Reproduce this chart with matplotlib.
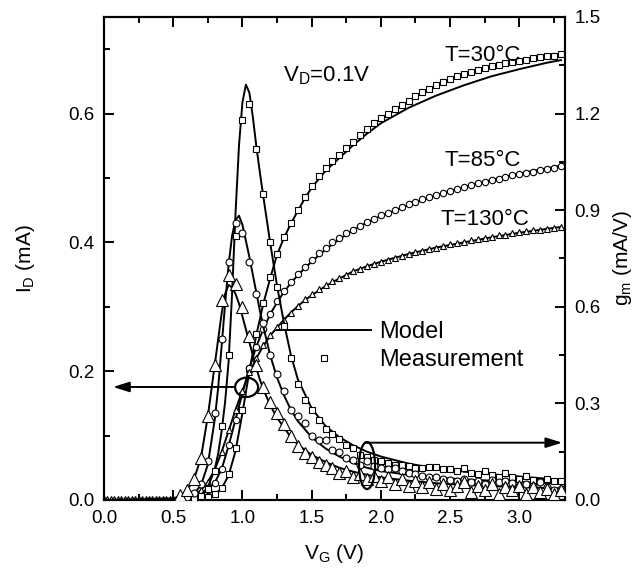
import numpy as np
import matplotlib
matplotlib.use('Agg')
import matplotlib.pyplot as plt
from matplotlib.patches import Ellipse
from matplotlib.lines import Line2D

plt.rc('font', family='Liberation Sans', size=14)
plt.rc('mathtext', fontset='custom', rm='Liberation Sans', it='Liberation Sans:italic')

# measurement grid (V)
vg = np.round(np.arange(0.55, 3.301, 0.05), 2)
vg_low = np.round(np.arange(0.0, 0.54, 0.025), 3)

# drain current, measured (mA)
id30_meas = [0.000, 0.000, 0.001, 0.002, 0.005, 0.009, 0.018, 0.040, 0.080, 0.140,
             0.203, 0.258, 0.306, 0.346, 0.382, 0.408, 0.430, 0.450, 0.470, 0.488,
             0.503, 0.515, 0.526, 0.536, 0.546, 0.556, 0.566, 0.576, 0.585, 0.593,
             0.600, 0.607, 0.614, 0.620, 0.627, 0.633, 0.638, 0.644, 0.649, 0.654,
             0.658, 0.662, 0.665, 0.668, 0.671, 0.674, 0.676, 0.678, 0.680, 0.682,
             0.684, 0.686, 0.688, 0.689, 0.690, 0.692]
id85_meas = [0.000, 0.002, 0.004, 0.008, 0.016, 0.027, 0.048, 0.085, 0.125, 0.165,
             0.205, 0.238, 0.265, 0.289, 0.309, 0.325, 0.339, 0.351, 0.362, 0.373,
             0.383, 0.392, 0.400, 0.407, 0.414, 0.420, 0.426, 0.432, 0.437, 0.442,
             0.446, 0.451, 0.455, 0.459, 0.463, 0.467, 0.470, 0.474, 0.477, 0.480,
             0.483, 0.486, 0.489, 0.492, 0.494, 0.497, 0.499, 0.502, 0.504, 0.506,
             0.508, 0.510, 0.512, 0.514, 0.516, 0.518]
id130_meas = [0.002, 0.003, 0.007, 0.015, 0.028, 0.047, 0.075, 0.108, 0.140, 0.170,
              0.198, 0.221, 0.240, 0.256, 0.269, 0.280, 0.291, 0.302, 0.312, 0.320,
              0.328, 0.334, 0.340, 0.345, 0.350, 0.355, 0.359, 0.363, 0.367, 0.370,
              0.373, 0.376, 0.379, 0.382, 0.385, 0.387, 0.390, 0.392, 0.395, 0.397,
              0.399, 0.401, 0.403, 0.405, 0.407, 0.409, 0.411, 0.412, 0.414, 0.416,
              0.417, 0.419, 0.420, 0.421, 0.422, 0.424]
id130_low = [0.0] * len(vg_low)

# transconductance, measured (mA/V)
gm30_meas = [0.000, 0.002, 0.005, 0.012, 0.035, 0.090, 0.230, 0.450, 0.820, 1.180,
             1.230, 1.090, 0.950, 0.800, 0.660, 0.540, 0.440, 0.360, 0.310, 0.280,
             0.250, 0.220, 0.205, 0.190, 0.172, 0.160, 0.140, 0.135, 0.125, 0.120,
             0.115, 0.110, 0.108, 0.105, 0.100, 0.098, 0.103, 0.102, 0.095, 0.097,
             0.090, 0.099, 0.085, 0.080, 0.090, 0.078, 0.072, 0.083, 0.070, 0.066,
             0.075, 0.062, 0.060, 0.065, 0.058, 0.060]
gm85_meas = [0.000, 0.008, 0.022, 0.050, 0.120, 0.270, 0.500, 0.740, 0.860, 0.830,
             0.740, 0.640, 0.550, 0.450, 0.390, 0.340, 0.280, 0.260, 0.240, 0.200,
             0.185, 0.186, 0.155, 0.150, 0.130, 0.125, 0.110, 0.120, 0.105, 0.100,
             0.095, 0.100, 0.090, 0.085, 0.080, 0.075, 0.070, 0.072, 0.065, 0.062,
             0.059, 0.065, 0.055, 0.060, 0.050, 0.062, 0.055, 0.060, 0.052, 0.045,
             0.050, 0.044, 0.055, 0.040, 0.030, 0.035]
gm130_meas = [0.015, 0.030, 0.065, 0.130, 0.260, 0.420, 0.620, 0.700, 0.670, 0.600,
              0.510, 0.420, 0.350, 0.305, 0.270, 0.235, 0.200, 0.168, 0.145, 0.132,
              0.118, 0.110, 0.100, 0.085, 0.090, 0.070, 0.080, 0.065, 0.075, 0.060,
              0.070, 0.050, 0.065, 0.045, 0.060, 0.040, 0.055, 0.035, 0.050, 0.030,
              0.045, 0.055, 0.025, 0.045, 0.030, 0.050, 0.020, 0.040, 0.030, 0.045,
              0.020, 0.040, 0.025, 0.035, 0.020, 0.030]

# model curves
vg_fit_id = [0.0, 0.5, 0.55, 0.6, 0.65, 0.7, 0.75, 0.8, 0.85, 0.9, 0.95, 1.0, 1.05, 1.1,
             1.15, 1.2, 1.25, 1.3, 1.35, 1.4, 1.45, 1.5, 1.6, 1.7, 1.8, 1.9, 2.0, 2.2,
             2.4, 2.6, 2.8, 3.0, 3.2, 3.3]
id30_fit = [0.0, 0.0, 0.0, 0.0, 0.001, 0.002, 0.005, 0.009, 0.018, 0.038, 0.076, 0.135,
            0.200, 0.256, 0.304, 0.344, 0.381, 0.407, 0.429, 0.449, 0.468, 0.485, 0.511,
            0.531, 0.551, 0.569, 0.585, 0.609, 0.628, 0.644, 0.658, 0.669, 0.679, 0.683]
id85_fit = [0.0, 0.0, 0.0, 0.001, 0.004, 0.008, 0.016, 0.027, 0.048, 0.084, 0.125, 0.166,
            0.205, 0.238, 0.265, 0.288, 0.307, 0.323, 0.337, 0.349, 0.360, 0.370, 0.389,
            0.405, 0.419, 0.431, 0.441, 0.458, 0.473, 0.486, 0.497, 0.507, 0.515, 0.519]
id130_fit = [0.0, 0.0, 0.002, 0.003, 0.007, 0.015, 0.028, 0.047, 0.075, 0.107, 0.140, 0.170,
             0.197, 0.220, 0.239, 0.255, 0.268, 0.280, 0.291, 0.301, 0.310, 0.318, 0.332,
             0.344, 0.355, 0.363, 0.370, 0.382, 0.392, 0.400, 0.408, 0.415, 0.421, 0.424]

vg_fit_gm = [0.0, 0.5, 0.55, 0.6, 0.65, 0.7, 0.75, 0.8, 0.825, 0.85, 0.875, 0.9, 0.925,
             0.95, 0.975, 1.0, 1.025, 1.05, 1.075, 1.1, 1.125, 1.15, 1.2, 1.25, 1.3, 1.35,
             1.4, 1.5, 1.6, 1.7, 1.8, 1.9, 2.0, 2.2, 2.4, 2.6, 2.8, 3.0, 3.2, 3.3]
gm30_fit = [0.0, 0.0, 0.001, 0.002, 0.006, 0.015, 0.040, 0.095, 0.145, 0.215, 0.305, 0.430,
            0.640, 0.890, 1.100, 1.235, 1.290, 1.265, 1.190, 1.100, 1.020, 0.945, 0.800,
            0.665, 0.550, 0.450, 0.375, 0.285, 0.230, 0.195, 0.170, 0.150, 0.135, 0.113,
            0.098, 0.088, 0.080, 0.073, 0.066, 0.063]
gm85_fit = [0.0, 0.0, 0.003, 0.008, 0.020, 0.045, 0.110, 0.250, 0.350, 0.480, 0.610, 0.730,
            0.820, 0.870, 0.883, 0.855, 0.805, 0.755, 0.700, 0.645, 0.590, 0.540, 0.450,
            0.380, 0.325, 0.280, 0.245, 0.195, 0.160, 0.135, 0.115, 0.100, 0.090, 0.078,
            0.070, 0.064, 0.060, 0.056, 0.053, 0.052]
gm130_fit = [0.0, 0.005, 0.012, 0.030, 0.065, 0.130, 0.260, 0.420, 0.500, 0.580, 0.640, 0.668,
             0.660, 0.640, 0.610, 0.570, 0.530, 0.490, 0.450, 0.410, 0.375, 0.345, 0.295,
             0.255, 0.225, 0.195, 0.172, 0.140, 0.118, 0.100, 0.088, 0.078, 0.070, 0.060,
             0.052, 0.047, 0.043, 0.040, 0.037, 0.036]

temps = ['T=30°C', 'T=85°C', 'T=130°C']

fig = plt.figure(figsize=(6.39, 5.75), dpi=100)
ax = fig.add_axes([104/639, 1-500/575, 461/639, 483/575])
ax2 = ax.twinx()

lw = 1.4
mk = dict(linestyle='none', markerfacecolor='white', markeredgecolor='k', markeredgewidth=0.8)

# I_D on left axis
for y in (id30_fit, id85_fit, id130_fit):
    ax.plot(vg_fit_id, y, color='k', lw=lw, zorder=2)
ax.plot(vg, id30_meas, marker='s', markersize=4.3, zorder=3, **mk)
ax.plot(vg, id85_meas, marker='o', markersize=4.6, zorder=3, **mk)
ax.plot(vg_low, id130_low, marker='^', markersize=6, zorder=3, **mk)
ax.plot(vg, id130_meas, marker='^', markersize=5, zorder=3, **mk)

# g_m on right axis
for y in (gm30_fit, gm85_fit, gm130_fit):
    ax2.plot(vg_fit_gm, y, color='k', lw=lw, zorder=2)
ax2.plot(vg, gm30_meas, marker='s', markersize=4.8, zorder=3, **mk)
ax2.plot(vg, gm85_meas, marker='o', markersize=5, zorder=3, **mk)
ax2.plot(vg, gm130_meas, marker='^', markersize=9, zorder=3, **mk)

ax.set_xlim(0, 3.33)
ax.set_ylim(0, 0.75)
ax2.set_ylim(0, 1.5)
ax.set_xticks(np.arange(0, 3.01, 0.5))
ax.set_xticks(np.arange(0, 3.33, 0.25), minor=True)
ax.set_yticks([0.0, 0.2, 0.4, 0.6])
ax.set_yticks(np.arange(0, 0.751, 0.1), minor=True)
ax2.set_yticks(np.arange(0, 1.51, 0.3))
ax2.set_yticks(np.arange(0, 1.51, 0.15), minor=True)
ax.xaxis.set_major_formatter(matplotlib.ticker.FormatStrFormatter('%.1f'))
ax.yaxis.set_major_formatter(matplotlib.ticker.FormatStrFormatter('%.1f'))
ax2.yaxis.set_major_formatter(matplotlib.ticker.FormatStrFormatter('%.1f'))

ax.tick_params(which='both', direction='in', top=True, right=False, width=1.4, labelsize=13.5)
ax.tick_params(which='major', length=7, pad=7)
ax.tick_params(which='minor', length=4)
ax2.tick_params(which='both', direction='in', width=1.4, labelsize=13.5)
ax2.tick_params(which='major', length=7, pad=7)
ax2.tick_params(which='minor', length=4)
for a in (ax, ax2):
    for s in a.spines.values():
        s.set_linewidth(1.5)

ax.set_xlabel('V$_\\mathrm{G}$ (V)', fontsize=15, labelpad=11)
ax.set_ylabel('I$_\\mathrm{D}$ (mA)', fontsize=15, labelpad=22)
ax2.set_ylabel('g$_\\mathrm{m}$ (mA/V)', fontsize=15, labelpad=7)

# annotations
ax.text(1.29, 0.65, 'V$_\\mathrm{D}$=0.1V', fontsize=16)
ax.text(2.46, 0.682, temps[0], fontsize=16)
ax.text(2.46, 0.519, temps[1], fontsize=16)
ax.text(2.43, 0.427, temps[2], fontsize=16)

# circles and arrows pointing to the axes (drawn on the top axes, g_m units)
ax2.add_patch(Ellipse((1.03, 0.35), 0.166, 0.06, fill=False, lw=1.6, ec='k', zorder=5))
ax2.add_patch(Ellipse((1.9, 0.107), 0.116, 0.146, fill=False, lw=1.6, ec='k', zorder=5))
arw = dict(arrowstyle='-|>,head_length=0.7,head_width=0.22', color='k', lw=1.4,
           shrinkA=0, shrinkB=0)
ax2.annotate('', xy=(0.065, 0.351), xytext=(0.946, 0.351), arrowprops=arw, zorder=5)
ax2.annotate('', xy=(3.31, 0.178), xytext=(1.885, 0.178), arrowprops=arw, zorder=5)

handles = [Line2D([], [], color='k', lw=lw),
           Line2D([], [], marker='s', markersize=5, **mk)]
ax2.legend(handles, ['Model', 'Measurement'], loc='upper left', bbox_to_anchor=(0.375, 0.37),
           frameon=False, fontsize=17, handlelength=4.0, handletextpad=0.35,
           labelspacing=0.25, borderpad=0, borderaxespad=0)

fig.savefig('out.png', dpi=100)
plt.close(fig)
